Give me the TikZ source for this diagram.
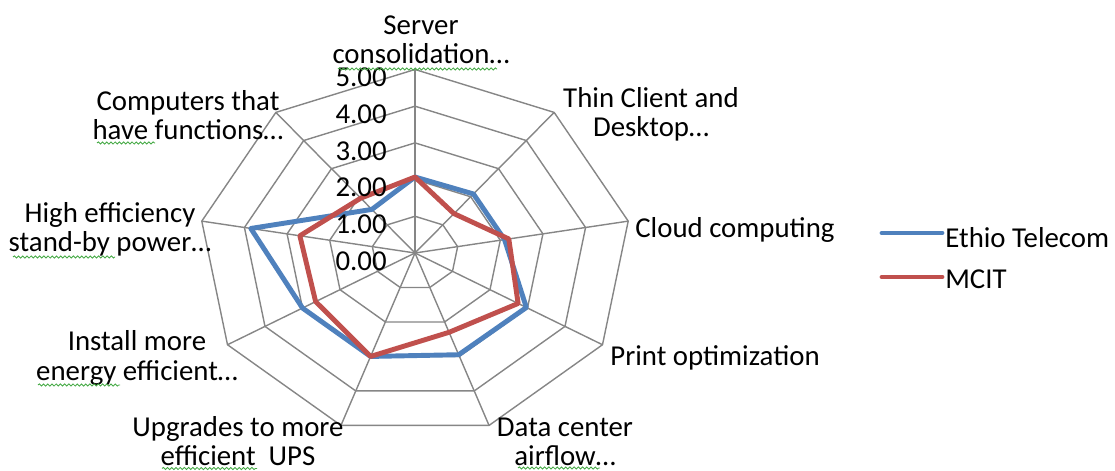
\documentclass[tikz,border=0pt]{standalone}
\usepackage{fontspec}
\setmainfont{Carlito}
\usepackage{tikz}
\usetikzlibrary{positioning,decorations.pathmorphing}
\definecolor{ethioblue}{RGB}{79,129,189}
\definecolor{mcitred}{RGB}{192,80,77}
\definecolor{gridgray}{RGB}{134,134,134}
\definecolor{spellgreen}{RGB}{70,170,70}

\begin{document}
\begin{tikzpicture}[font=\fontsize{16.4}{16.6}\selectfont,
 axislabel/.style={align=center, inner sep=0pt},
 ticklabel/.style={anchor=east, inner sep=0pt},
 gridline/.style={draw=gridgray, line width=0.8pt},
 series/.style={line width=2.8pt, line join=round, line cap=round},
 spell/.style={draw=spellgreen, line width=0.5pt, decorate,
   decoration={snake, amplitude=0.6pt, segment length=2.4pt}}]
\useasboundingbox (0,0) rectangle (22.3,9.42);
\begin{scope}[shift={(8.3,4.36)}, x=0.866cm, y=0.734cm]
 \coordinate (c) at (0,0);
 % rings and spokes
 \foreach \r in {1,...,5}
  \draw[gridline] (90:\r) \foreach \k in {1,...,8} { -- ({90-40*\k}:\r) } -- cycle;
 \foreach \k in {0,...,8}
  \draw[gridline] (c) -- ({90-40*\k}:5);
 % the two series
 \draw[series, ethioblue] (90:2.07) -- (50:2.1) -- (10:2.1) -- (-30:2.97) -- (-70:2.95)
  -- (-110:3.0) -- (-150:3.0) -- (-190:3.85) -- (-230:1.55) -- cycle;
 \draw[series, mcitred] (90:2.07) -- (50:1.4) -- (10:2.2) -- (-30:2.75) -- (-70:2.3)
  -- (-110:3.0) -- (-150:2.65) -- (-190:2.7) -- (-230:1.95) -- cycle;
\end{scope}
\foreach \t in {0,...,5}
 \node[ticklabel] (tick\t) at (7.74, {4.2+0.734*\t}) {\t.00};
\node[axislabel] (server) at (8.42, 8.62) {Server\\consolidation…};
\node[axislabel] (thin) at (13.02, 7.13) {Thin Client and\\Desktop…};
\node[axislabel, anchor=west] (cloud) at (12.7, 4.82) {Cloud computing};
\node[axislabel, anchor=west] (print) at (12.2, 2.26) {Print optimization};
\node[axislabel] (airflow) at (11.3, 0.59) {Data center\\airflow…};
\node[axislabel] (ups) at (4.76, 0.6) {Upgrades to more\\efficient\ \ UPS};
\node[axislabel] (install) at (2.74, 2.26) {Install more\\energy efficient…};
\node[axislabel] (standby) at (2.2, 4.84) {High efficiency\\stand-by power…};
\node[axislabel] (computers) at (3.76, 7.12) {Computers that\\have functions…};
% spell check marks
\draw[spell] (6.76,8.04) -- (9.94,8.04);
\draw[spell] (1.94,6.56) -- (3.1,6.56);
\draw[spell] (0.26,4.28) -- (2.3,4.28);
\draw[spell] (0.76,1.72) -- (2.4,1.72);
\draw[spell] (3.24,0.05) -- (5.14,0.05);
\draw[spell] (10.36,0.06) -- (12.0,0.06);
% legend
\coordinate (lgb1) at (17.64,4.76);
\coordinate (lgb2) at (18.84,4.76);
\coordinate (lgr1) at (17.64,3.88);
\coordinate (lgr2) at (18.84,3.88);
\draw[series, ethioblue] (lgb1) -- (lgb2);
\draw[series, mcitred] (lgr1) -- (lgr2);
\node[anchor=base west, inner sep=0pt] (lgethio) at (18.9,4.46) {Ethio Telecom};
\node[anchor=base west, inner sep=0pt] (lgmcit) at (18.9,3.64) {MCIT};
\end{tikzpicture}
\end{document}
